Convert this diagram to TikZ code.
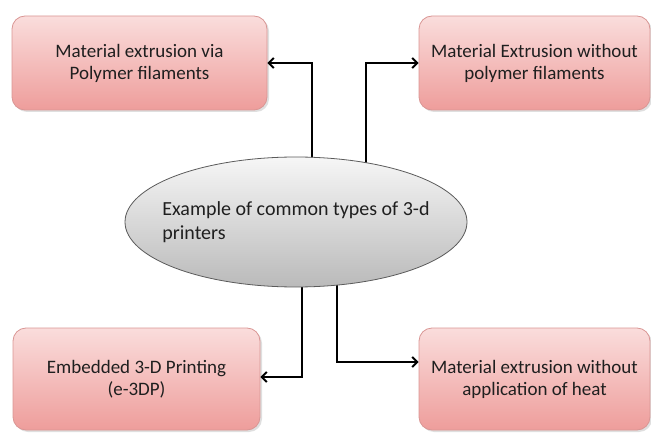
\documentclass[tikz,border=0pt]{standalone}
\usepackage{fontspec}
\setmainfont{Carlito}
\usetikzlibrary{shapes.geometric,shadows,arrows.meta}
\definecolor{boxtop}{HTML}{FADDDC}
\definecolor{boxbot}{HTML}{EE9D9B}
\definecolor{boxline}{HTML}{D99694}
\definecolor{ovaltop}{HTML}{F6F6F6}
\definecolor{ovalbot}{HTML}{BABABA}
\definecolor{ovalline}{HTML}{5A5A5A}
\begin{document}
\begin{tikzpicture}[x=1pt,y=1pt,
    typebox/.style={rectangle, rounded corners=13pt, draw=boxline, line width=0.8pt,
        top color=boxtop, bottom color=boxbot, align=center, text=black!88,
        font=\fontsize{19}{22}\selectfont,
        drop shadow={shadow xshift=2pt, shadow yshift=-2pt, opacity=0.25}},
    oval/.style={ellipse, draw=ovalline, line width=0.8pt, top color=ovaltop,
        bottom color=ovalbot, minimum width=342pt, minimum height=130pt,
        inner sep=0pt},
    ovaltext/.style={align=left, text=black!88, font=\fontsize{20}{24}\selectfont},
    link/.style={line width=2pt, -{Straight Barb[length=5pt,width=10pt]}}]
    \useasboundingbox (0,0) rectangle (651,432);
    % the four printer types
    \node[typebox, minimum width=255pt, minimum height=94pt] (tlbox) at (139.5,369) {Material extrusion via\\Polymer filaments};
    \node[typebox, minimum width=231pt, minimum height=94pt] (trbox) at (534.5,369) {Material Extrusion without\\polymer filaments};
    \node[typebox, minimum width=247pt, minimum height=102pt] (blbox) at (136.5,53) {Embedded 3-D Printing\\(e-3DP)};
    \node[typebox, minimum width=231pt, minimum height=102pt] (brbox) at (534.5,53) {Material extrusion without\\application of heat};
    % connectors start inside the oval, which is drawn on top
    \coordinate (o-tl) at (312,210);
    \coordinate (o-tr) at (366,210);
    \coordinate (o-bl) at (302,210);
    \coordinate (o-br) at (337,210);
    \draw[link] (o-tl) |- (tlbox.east);
    \draw[link] (o-tr) |- (trbox.west);
    \draw[link] (o-bl) |- ([yshift=2pt]blbox.east);
    \draw[link] (o-br) |- ([yshift=17pt]brbox.west);
    \node[oval, label={[ovaltext]center:{Example of common types of 3-d\\printers}}] (types) at (296,210) {};
\end{tikzpicture}
\end{document}
